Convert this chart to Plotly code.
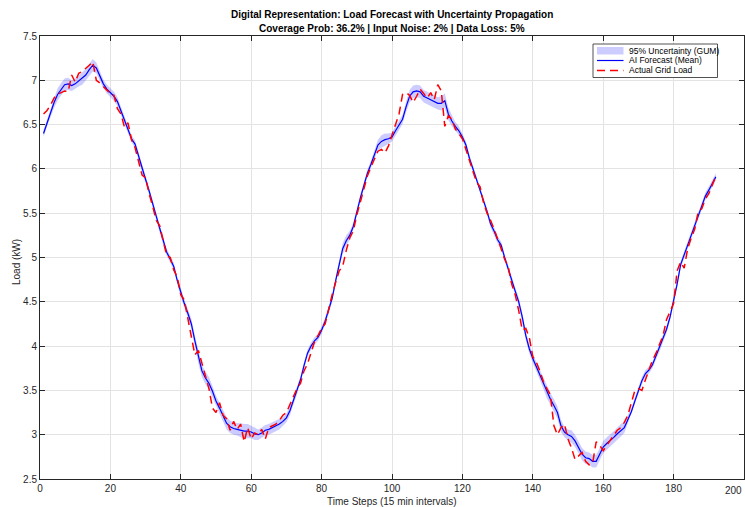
import plotly.graph_objects as go

steps = list(range(1, 193))

forecast_mean = [
    6.40, 6.52, 6.64, 6.75, 6.84, 6.90, 6.95, 6.96, 6.94, 6.96,
    6.99, 7.02, 7.06, 7.12, 7.17, 7.14, 7.05, 6.96, 6.90, 6.86,
    6.82, 6.76, 6.66, 6.55, 6.44, 6.34, 6.28, 6.14, 5.99, 5.88,
    5.75, 5.62, 5.47, 5.33, 5.18, 5.06, 4.98, 4.90, 4.74, 4.60,
    4.48, 4.37, 4.25, 4.06, 3.87, 3.72, 3.64, 3.58, 3.49, 3.38,
    3.30, 3.21, 3.13, 3.09, 3.07, 3.06, 3.05, 3.04, 3.04, 3.03,
    3.01, 3.00, 3.02, 3.05, 3.06, 3.08, 3.10, 3.12, 3.15, 3.19,
    3.27, 3.38, 3.49, 3.62, 3.78, 3.92, 4.00, 4.06, 4.10, 4.18,
    4.28, 4.40, 4.54, 4.74, 4.94, 5.10, 5.19, 5.25, 5.35, 5.52,
    5.67, 5.81, 5.95, 6.05, 6.16, 6.27, 6.31, 6.33, 6.34, 6.36,
    6.43, 6.49, 6.56, 6.70, 6.82, 6.87, 6.88, 6.87, 6.82, 6.80,
    6.78, 6.76, 6.74, 6.74, 6.77, 6.62, 6.54, 6.48, 6.43, 6.36,
    6.27, 6.12, 6.00, 5.90, 5.78, 5.66, 5.52, 5.38, 5.30, 5.20,
    5.14, 5.00, 4.87, 4.73, 4.62, 4.50, 4.33, 4.12, 3.97, 3.86,
    3.77, 3.68, 3.58, 3.48, 3.40, 3.33, 3.25, 3.10, 3.03, 3.00,
    2.98, 2.93, 2.86, 2.78, 2.74, 2.73, 2.70, 2.70, 2.78, 2.86,
    2.90, 2.93, 2.97, 3.01, 3.05, 3.08, 3.17, 3.26, 3.38, 3.50,
    3.61, 3.69, 3.73, 3.79, 3.89, 3.98, 4.08, 4.19, 4.33, 4.50,
    4.70, 4.92, 5.04, 5.14, 5.25, 5.35, 5.47, 5.58, 5.69, 5.76,
    5.84, 5.91,
]

actual_load = [
    6.62, 6.66, 6.72, 6.80, 6.84, 6.86, 6.88, 6.87, 7.06, 6.98,
    7.08, 7.10, 7.13, 7.17, 7.21, 7.00, 6.97, 6.93, 6.90, 6.85,
    6.83, 6.68, 6.62, 6.47, 6.52, 6.33, 6.24, 6.10, 5.93, 5.90,
    5.72, 5.58, 5.42, 5.36, 5.20, 5.02, 5.00, 4.86, 4.78, 4.58,
    4.52, 4.30, 4.10, 3.90, 3.95, 3.80, 3.66, 3.52, 3.30, 3.25,
    3.36, 3.22, 3.18, 3.05, 3.15, 3.06, 3.12, 2.92, 3.08, 2.95,
    3.02, 3.00, 3.06, 2.95, 3.08, 3.10, 3.12, 3.16, 3.22, 3.25,
    3.34, 3.44, 3.52, 3.58, 3.72, 3.80, 3.92, 4.05, 4.12, 4.20,
    4.25, 4.42, 4.58, 4.72, 4.85, 4.90, 5.08, 5.22, 5.30, 5.48,
    5.62, 5.78, 5.92, 6.02, 6.12, 6.20, 6.22, 6.18, 6.26, 6.38,
    6.50, 6.62, 6.84, 6.86, 6.83, 6.75, 6.82, 6.90, 6.85, 6.80,
    6.86, 6.78, 6.95, 6.88, 6.48, 6.60, 6.56, 6.45, 6.40, 6.34,
    6.22, 6.10, 5.98, 5.85, 5.80, 5.62, 5.50, 5.42, 5.32, 5.22,
    5.10, 4.98, 4.90, 4.70, 4.58, 4.40, 4.18, 4.20, 4.10, 3.88,
    3.82, 3.72, 3.60, 3.52, 3.45, 3.10, 3.00, 3.08, 3.12, 2.95,
    2.85, 2.72, 2.76, 2.80, 2.70, 2.66, 2.68, 2.92, 2.88, 2.82,
    2.88, 2.94, 3.00, 3.05, 3.08, 3.14, 3.22, 3.35, 3.50, 3.52,
    3.50, 3.62, 3.74, 3.84, 3.92, 4.02, 4.12, 4.30, 4.40, 4.48,
    4.85, 4.95, 4.88, 5.10, 5.22, 5.32, 5.52, 5.55, 5.66, 5.72,
    5.82, 5.92,
]

band_halfwidth = [
    0.04, 0.04, 0.05, 0.06, 0.07, 0.07, 0.07, 0.07, 0.06, 0.06,
    0.06, 0.07, 0.07, 0.07, 0.07, 0.06, 0.05, 0.05, 0.05, 0.05,
    0.05, 0.05, 0.04, 0.04, 0.04, 0.04, 0.04, 0.04, 0.04, 0.04,
    0.04, 0.04, 0.04, 0.04, 0.04, 0.04, 0.04, 0.04, 0.04, 0.05,
    0.05, 0.05, 0.06, 0.06, 0.07, 0.07, 0.07, 0.07, 0.06, 0.06,
    0.06, 0.06, 0.07, 0.07, 0.07, 0.07, 0.08, 0.08, 0.08, 0.07,
    0.07, 0.06, 0.06, 0.06, 0.06, 0.06, 0.06, 0.06, 0.05, 0.05,
    0.05, 0.04, 0.04, 0.04, 0.04, 0.04, 0.04, 0.04, 0.04, 0.04,
    0.04, 0.04, 0.04, 0.04, 0.05, 0.06, 0.06, 0.05, 0.04, 0.04,
    0.04, 0.04, 0.04, 0.04, 0.05, 0.06, 0.07, 0.07, 0.06, 0.05,
    0.05, 0.05, 0.05, 0.06, 0.07, 0.07, 0.07, 0.07, 0.07, 0.07,
    0.07, 0.07, 0.07, 0.08, 0.08, 0.07, 0.06, 0.05, 0.05, 0.04,
    0.04, 0.04, 0.04, 0.04, 0.04, 0.04, 0.04, 0.04, 0.04, 0.04,
    0.04, 0.04, 0.04, 0.04, 0.04, 0.05, 0.05, 0.05, 0.05, 0.05,
    0.05, 0.05, 0.06, 0.07, 0.07, 0.07, 0.07, 0.07, 0.06, 0.06,
    0.07, 0.07, 0.07, 0.07, 0.07, 0.07, 0.07, 0.07, 0.07, 0.07,
    0.07, 0.07, 0.07, 0.07, 0.07, 0.06, 0.05, 0.04, 0.04, 0.04,
    0.04, 0.04, 0.04, 0.04, 0.04, 0.04, 0.04, 0.04, 0.04, 0.04,
    0.04, 0.04, 0.04, 0.04, 0.04, 0.04, 0.04, 0.04, 0.04, 0.04,
    0.04, 0.04,
]

legend_labels = ["95% Uncertainty (GUM)", "AI Forecast (Mean)", "Actual Grid Load"]
title_lines = [
    "Digital Representation: Load Forecast with Uncertainty Propagation",
    "Coverage Prob: 36.2% | Input Noise: 2% | Data Loss: 5%",
]
x_title = "Time Steps (15 min intervals)"
y_title = "Load (kW)"
x_ticks = [0, 20, 40, 60, 80, 100, 120, 140, 160, 180, 200]

upper = [m + h for m, h in zip(forecast_mean, band_halfwidth)]
lower = [m - h for m, h in zip(forecast_mean, band_halfwidth)]

FONT = "Liberation Sans, Arial, Helvetica, sans-serif"
AX = "#262626"
BAND = "rgba(0,0,255,0.2)"
BLUE = "#0000ff"
RED = "#ff0000"
DASH = "8px,5px"

W, H = 745, 507
ML, MR, MT, MB = 40, 1, 36, 28
PW, PH = W - ML - MR, H - MT - MB


def px(x):
    return (x - ML) / PW


def py(y):
    return 1 - (y - MT) / PH


fig = go.Figure()
fig.add_trace(go.Scatter(
    x=steps + steps[::-1], y=upper + lower[::-1],
    fill="toself", fillcolor=BAND,
    line=dict(width=0), mode="lines", hoverinfo="skip",
    name=legend_labels[0], showlegend=False,
))
fig.add_trace(go.Scatter(
    x=steps, y=forecast_mean, mode="lines",
    line=dict(color=BLUE, width=1.2),
    name=legend_labels[1], showlegend=False,
))
fig.add_trace(go.Scatter(
    x=steps, y=actual_load, mode="lines",
    line=dict(color=RED, width=1.5, dash=DASH),
    name=legend_labels[2], showlegend=False,
))

# Legend (drawn compactly like the original)
shapes = [
    dict(type="rect", xref="paper", yref="paper",
         x0=px(593), x1=px(717.5), y0=py(77.5), y1=py(44),
         fillcolor="white", line=dict(color=AX, width=0.8)),
    dict(type="rect", xref="paper", yref="paper",
         x0=px(597), x1=px(623.5), y0=py(54.5), y1=py(47),
         fillcolor=BAND, line=dict(width=0)),
    dict(type="line", xref="paper", yref="paper",
         x0=px(597), x1=px(623.5), y0=py(60.5), y1=py(60.5),
         line=dict(color=BLUE, width=1.2)),
    dict(type="line", xref="paper", yref="paper",
         x0=px(597), x1=px(623.5), y0=py(70.5), y1=py(70.5),
         line=dict(color=RED, width=1.5, dash=DASH)),
]
annotations = []
for label, yc in zip(legend_labels, [50.8, 60.5, 70.5]):
    annotations.append(dict(
        text=label, xref="paper", yref="paper", x=px(626.5), y=py(yc),
        xanchor="left", yanchor="middle", showarrow=False,
        font=dict(family=FONT, size=8.5, color="black"),
    ))
for line, yc in zip(title_lines, [14, 28]):
    annotations.append(dict(
        text="<b>" + line + "</b>", xref="paper", yref="paper",
        x=px(392), y=py(yc), xanchor="center", yanchor="middle",
        showarrow=False, font=dict(family=FONT, size=10, color="black"),
    ))
# last x tick label sits at the right edge of the figure
annotations.append(dict(
    text=str(x_ticks[-1]), xref="x", yref="paper", x=x_ticks[-1], y=py(490),
    xanchor="right", yanchor="middle", showarrow=False,
    font=dict(family=FONT, size=10, color=AX),
))
annotations.append(dict(
    text=x_title, xref="paper", yref="paper", x=px(392), y=py(502),
    xanchor="center", yanchor="middle", showarrow=False,
    font=dict(family=FONT, size=10, color=AX),
))
annotations.append(dict(
    text=y_title, xref="paper", yref="paper", x=px(16), y=py(262),
    xanchor="center", yanchor="middle", showarrow=False, textangle=-90,
    font=dict(family=FONT, size=10, color=AX),
))

fig.update_layout(
    width=W, height=H, autosize=False,
    margin=dict(l=ML, r=MR, t=MT, b=MB, autoexpand=False),
    paper_bgcolor="white", plot_bgcolor="white",
    font=dict(family=FONT, size=10, color=AX),
    showlegend=False,
    shapes=shapes,
    annotations=annotations,
)
fig.update_xaxes(
    range=[0, 200], tickvals=x_ticks[:-1], automargin=False,
    showgrid=True, gridcolor="#e3e3e3", gridwidth=1,
    showline=True, linecolor=AX, linewidth=1, mirror="ticks",
    ticks="inside", ticklen=5, tickcolor=AX,
    zeroline=False,
)
fig.update_yaxes(
    range=[2.5, 7.5], dtick=0.5, tick0=2.5, automargin=False,
    showgrid=True, gridcolor="#e3e3e3", gridwidth=1,
    showline=True, linecolor=AX, linewidth=1, mirror="ticks",
    ticks="inside", ticklen=5, tickcolor=AX,
    zeroline=False,
)

fig.write_html(
    "out.html",
    config={"displayModeBar": False},
    post_script="document.body.style.margin='0px';document.body.style.overflow='hidden';",
)
